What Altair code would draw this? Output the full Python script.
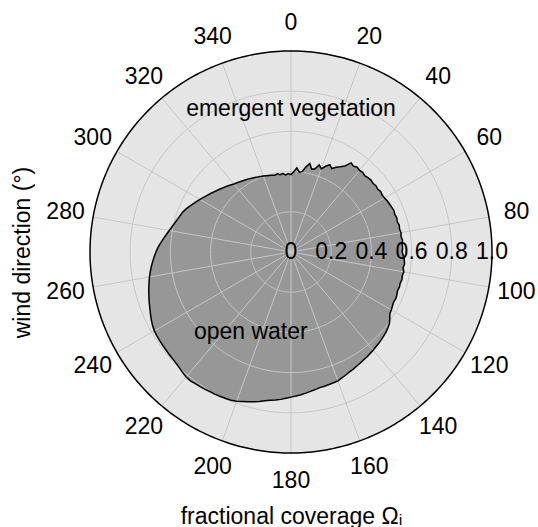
import altair as alt
import numpy as np
import pandas as pd

# Wind direction (degrees, clockwise from north) and the open-water
# fractional coverage seen along each direction.
wind_dir = list(range(0, 360, 2))
open_water = [
    0.385, 0.400, 0.420, 0.398, 0.405, 0.430, 0.450, 0.425, 0.430, 0.455,  # 0-18
    0.440, 0.460, 0.475, 0.462, 0.478, 0.490, 0.505, 0.535, 0.528, 0.535,  # 20-38
    0.530, 0.533, 0.528, 0.532, 0.535, 0.532, 0.536, 0.533, 0.538, 0.535,  # 40-58
    0.537, 0.542, 0.545, 0.548, 0.552, 0.549, 0.553, 0.550, 0.555, 0.552,  # 60-78
    0.556, 0.553, 0.558, 0.554, 0.556, 0.553, 0.560, 0.565, 0.568, 0.563,  # 80-98
    0.570, 0.566, 0.569, 0.565, 0.567, 0.564, 0.568, 0.571, 0.568, 0.572,  # 100-118
    0.576, 0.580, 0.593, 0.605, 0.612, 0.618, 0.622, 0.626, 0.630, 0.633,  # 120-138
    0.637, 0.640, 0.644, 0.647, 0.651, 0.655, 0.660, 0.664, 0.670, 0.676,  # 140-158
    0.682, 0.684, 0.686, 0.688, 0.690, 0.695, 0.700, 0.706, 0.712, 0.717,  # 160-178
    0.722, 0.728, 0.735, 0.740, 0.745, 0.751, 0.760, 0.768, 0.775, 0.782,  # 180-198
    0.790, 0.795, 0.798, 0.800, 0.802, 0.803, 0.806, 0.808, 0.810, 0.813,  # 200-218
    0.812, 0.806, 0.800, 0.796, 0.793, 0.792, 0.790, 0.789, 0.788, 0.787,  # 220-238
    0.785, 0.780, 0.773, 0.765, 0.757, 0.750, 0.743, 0.736, 0.729, 0.722,  # 240-258
    0.715, 0.707, 0.699, 0.690, 0.681, 0.672, 0.662, 0.650, 0.638, 0.626,  # 260-278
    0.615, 0.605, 0.596, 0.588, 0.581, 0.575, 0.566, 0.555, 0.544, 0.533,  # 280-298
    0.523, 0.513, 0.503, 0.495, 0.486, 0.478, 0.470, 0.463, 0.456, 0.449,  # 300-318
    0.442, 0.437, 0.432, 0.428, 0.424, 0.420, 0.416, 0.412, 0.408, 0.405,  # 320-338
    0.402, 0.399, 0.396, 0.393, 0.390, 0.395, 0.388, 0.392, 0.384, 0.390,  # 340-358
]

# Angular and radial tick positions / labels
theta_ticks = list(range(0, 360, 20))
theta_labels = [str(t) for t in theta_ticks]
ring_levels = [0.2, 0.4, 0.6, 0.8]
r_label_pos = [0.0, 0.2, 0.4, 0.6, 0.8, 1.0]
r_labels = ["0", "0.2", "0.4", "0.6", "0.8", "1.0"]

# Region annotations (polar: direction, coverage)
region_text = ["emergent vegetation", "open water"]
region_theta = [0.0, 206.7]
region_r = [0.711, 0.445]

FONT = "Liberation Sans"
FS = 23
SIZE = 402          # plot diameter in px
LABEL_R = 1.139     # radius of the direction labels

water_df = pd.DataFrame({"theta": wind_dir, "r": open_water})

circle_angles = np.arange(0, 360, 1)
ring_df = pd.DataFrame(
    [{"theta": float(a), "r": lvl} for lvl in ring_levels for a in circle_angles]
)
disc_df = pd.DataFrame({"theta": circle_angles.astype(float), "r": 1.0})
spoke_df = pd.DataFrame({"theta": theta_ticks, "r": 1.0})
theta_lab_df = pd.DataFrame({"theta": theta_ticks, "r": LABEL_R, "label": theta_labels})
r_lab_df = pd.DataFrame({"theta": 90.0, "r": r_label_pos, "label": r_labels})
region_df = pd.DataFrame({"theta": region_theta, "r": region_r, "label": region_text})

to_x = "datum.r * sin(datum.theta * PI / 180)"
to_y = "datum.r * cos(datum.theta * PI / 180)"

dom = [-1, 1]
x_axis = alt.Axis(
    title="fractional coverage Ωᵢ", labels=False, ticks=False, domain=False,
    grid=False, titleFont=FONT, titleFontSize=FS, titleFontWeight="normal",
    titleColor="black", titleY=63, titleBaseline="middle", titleAlign="center",
)
y_axis = alt.Axis(
    title="wind direction (°)", labels=False, ticks=False, domain=False,
    grid=False, titleFont=FONT, titleFontSize=FS, titleFontWeight="normal",
    titleColor="black", titleX=-68, titleY=SIZE / 2, titleAngle=270,
    titleBaseline="middle", titleAlign="center",
)


def xq(field="x"):
    return alt.X(f"{field}:Q", scale=alt.Scale(domain=dom, nice=False, zero=False), axis=x_axis)


def yq(field="y"):
    return alt.Y(f"{field}:Q", scale=alt.Scale(domain=dom, nice=False, zero=False), axis=y_axis)


def polar(chart):
    return chart.transform_calculate(x=to_x, y=to_y)


disc = polar(alt.Chart(disc_df)).mark_line(
    interpolate="linear-closed", fill="#e5e5e5", stroke="#e5e5e5", strokeWidth=0
).encode(x=xq(), y=yq(), order="theta:Q")

water = polar(alt.Chart(water_df)).mark_line(
    interpolate="linear-closed", fill="#979797", stroke="#979797", strokeWidth=0
).encode(x=xq(), y=yq(), order="theta:Q")

rings = polar(alt.Chart(ring_df)).mark_line(
    interpolate="linear-closed", stroke="#c6c6c6", strokeWidth=1
).encode(x=xq(), y=yq(), detail="r:N", order="theta:Q")

spokes = polar(alt.Chart(spoke_df)).transform_calculate(
    x0="0", y0="0"
).mark_rule(stroke="#c6c6c6", strokeWidth=1).encode(
    x=xq("x0"), y=yq("y0"), x2="x:Q", y2="y:Q"
)

water_edge = polar(alt.Chart(water_df)).mark_line(
    interpolate="linear-closed", stroke="black", strokeWidth=1.5
).encode(x=xq(), y=yq(), order="theta:Q")

border = polar(alt.Chart(disc_df)).mark_line(
    interpolate="linear-closed", stroke="black", strokeWidth=1.5
).encode(x=xq(), y=yq(), order="theta:Q")


def labels(df):
    return polar(alt.Chart(df)).mark_text(
        font=FONT, fontSize=FS, color="black", align="center", baseline="middle"
    ).encode(x=xq(), y=yq(), text="label:N")


chart = alt.layer(
    disc, water, rings, spokes, water_edge, border,
    labels(theta_lab_df), labels(r_lab_df), labels(region_df),
).properties(
    width=SIZE, height=SIZE,
    padding={"left": 90, "top": 51, "right": 46, "bottom": 74},
    autosize=alt.AutoSizeParams(type="none"),
    background="white",
).configure_view(strokeWidth=0)

chart.save("out.html", embed_options={"renderer": "svg", "actions": False})
